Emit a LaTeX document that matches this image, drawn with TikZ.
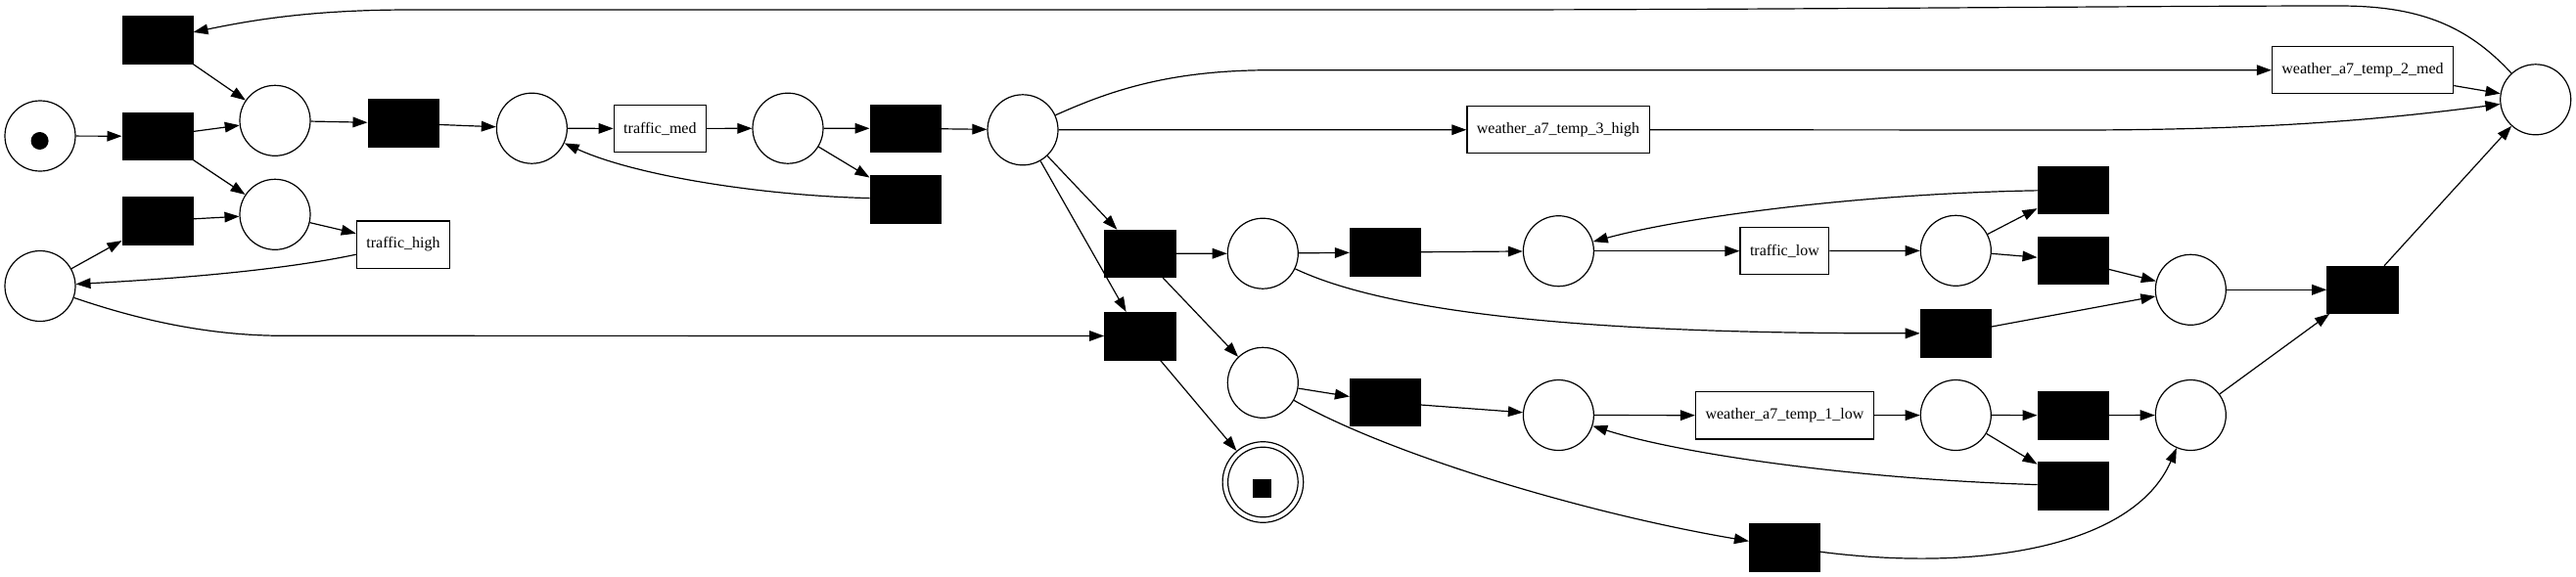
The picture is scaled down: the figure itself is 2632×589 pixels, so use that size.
\documentclass[tikz,border=0pt]{standalone}
\usepackage{fontspec}
\setmainfont{Liberation Serif}
\usetikzlibrary{arrows.meta}
\begin{document}
\begin{tikzpicture}[x=0.5pt,y=-0.5pt,
  place/.style={circle, draw=black, line width=0.6pt, fill=white, minimum size=36pt, inner sep=0pt},
  trans/.style={rectangle, draw=black, fill=black, line width=0.3pt, minimum width=36.2pt, minimum height=24.3pt, inner sep=0pt},
  lbl/.style={rectangle, draw=black, line width=0.6pt, fill=white, minimum height=24.1pt, inner xsep=5pt, inner ysep=2pt, font=\fontsize{8}{9.6}\selectfont},
  arr/.style={draw=black, line width=0.6pt, -{Triangle[length=7.5pt,width=5.3pt]}}]
\useasboundingbox (0,0) rectangle (2632,589);
\fill[white] (0,0) rectangle (2632,589);
% places
\node[place] (psrc) at (41,139) {};
\node[circle, fill=black, minimum size=9pt, inner sep=0pt] (tok) at (40.6,144) {};
\node[place] (p1) at (281,123.3) {};
\node[place] (p2) at (281,219.3) {};
\node[place] (pleft) at (41,292.5) {};
\node[place] (p3) at (543.4,131.2) {};
\node[place] (p4) at (805,131.2) {};
\node[place] (p5) at (1045,132.8) {};
\node[place] (p6) at (1290.3,259.2) {};
\node[place] (p7) at (1290.3,391.3) {};
\node[place, minimum size=41.3pt] (pfinal) at (1290.4,493) {};
\draw[line width=0.6pt] (pfinal.center) circle[radius=17.9pt];
\node[rectangle, fill=black, minimum size=9.5pt, inner sep=0pt] (pfinalmark) at (1289.6,499) {};
\node[place] (p8) at (1592.4,256.7) {};
\node[place] (p9) at (1998.3,256.3) {};
\node[place] (p10) at (2238.3,296.3) {};
\node[place] (p11) at (1592.4,424.5) {};
\node[place] (p12) at (1998.3,424.5) {};
\node[place] (p13) at (2238.3,424.5) {};
\node[place] (pright) at (2590.7,101.8) {};
% silent transitions
\node[trans] (t1) at (161,40.5) {};
\node[trans] (t2) at (161,139.3) {};
\node[trans] (t3) at (161,225.8) {};
\node[trans] (t4) at (412,126) {};
\node[trans] (t5) at (925,131.3) {};
\node[trans] (t6) at (925,203.5) {};
\node[trans] (t7) at (1164.6,259.3) {};
\node[trans] (tskip) at (1164.6,343.5) {};
\node[trans] (t8) at (1415.4,258) {};
\node[trans] (t13) at (1415.4,411.3) {};
\node[trans] (t9) at (2118,194.2) {};
\node[trans] (t10) at (2118,266.2) {};
\node[trans] (t11) at (1998.2,340.8) {};
\node[trans] (t12) at (2413.7,296.3) {};
\node[trans] (t14) at (2118,424.7) {};
\node[trans] (t15) at (2118,496.7) {};
\node[trans] (t16) at (1823.4,559.5) {};
% labelled transitions
\node[lbl] (tmed) at (674.4,131.5) {traffic\_med};
\node[lbl] (thigh) at (412,250) {traffic\_high};
\node[lbl] (w3) at (1592,132.7) {weather\_a7\_temp\_3\_high};
\node[lbl] (w2) at (2414,71.7) {weather\_a7\_temp\_2\_med};
\node[lbl] (tlow) at (1823.4,256.7) {traffic\_low};
\node[lbl] (w1) at (1823.4,424.8) {weather\_a7\_temp\_1\_low};
% arcs
\draw[arr] (psrc) -- (t2);
\draw[arr] (t1) -- (p1);
\draw[arr] (t2) -- (p1);
\draw[arr] (t2) -- (p2);
\draw[arr] (t3) -- (p2);
\draw[arr] (pleft) -- (t3);
\draw[arr] (p1) -- (t4);
\draw[arr] (t4) -- (p3);
\draw[arr] (p3) -- (tmed);
\draw[arr] (tmed) -- (p4);
\draw[arr] (p4) -- (t5);
\draw[arr] (p4) -- (t6);
\draw[arr] (t6) .. controls (780,200) and (650,180) .. (p3);
\draw[arr] (p2) -- (thigh);
\draw[arr] (thigh) .. controls (280,278) and (160,286) .. (pleft);
\draw[arr] (t5) -- (p5);
\draw[arr] (p5) -- (w3);
\draw[arr] (w3) -- (2120,133) .. controls (2330,133) and (2450,120) .. (pright);
\draw[arr] (p5) .. controls (1140,90) and (1200,71.7) .. (1300,71.7) -- (w2);
\draw[arr] (w2) -- (pright);
\draw[arr] (pright) .. controls (2520,25) and (2470,6) .. (2390,6) .. controls (2200,6) and (1800,10) .. (1500,10) -- (420,10) .. controls (320,10) and (260,20) .. (t1);
\draw[arr] (p5) -- (t7);
\draw[arr] (p5) -- (tskip);
\draw[arr] (pleft) .. controls (150,330) and (220,343.3) .. (290,343.3) -- (tskip);
\draw[arr] (t7) -- (p6);
\draw[arr] (t7) -- (p7);
\draw[arr] (tskip) -- (pfinal);
\draw[arr] (p6) -- (t8);
\draw[arr] (t8) -- (p8);
\draw[arr] (p8) -- (tlow);
\draw[arr] (tlow) -- (p9);
\draw[arr] (p9) -- (t9);
\draw[arr] (p9) -- (t10);
\draw[arr] (t9) .. controls (1900,198) and (1720,222) .. (p8);
\draw[arr] (t10) -- (p10);
\draw[arr] (p6) .. controls (1450,335) and (1750,341) .. (t11);
\draw[arr] (t11) -- (p10);
\draw[arr] (p10) -- (t12);
\draw[arr] (t12) -- (pright);
\draw[arr] (p7) -- (t13);
\draw[arr] (t13) -- (p11);
\draw[arr] (p11) -- (w1);
\draw[arr] (w1) -- (p12);
\draw[arr] (p12) -- (t14);
\draw[arr] (p12) -- (t15);
\draw[arr] (t15) .. controls (1900,490) and (1720,465) .. (p11);
\draw[arr] (t14) -- (p13);
\draw[arr] (p13) -- (t12);
\draw[arr] (p7) .. controls (1420,465) and (1620,525) .. (t16);
\draw[arr] (t16) .. controls (2020,585) and (2180,560) .. (p13);
\end{tikzpicture}
\end{document}
